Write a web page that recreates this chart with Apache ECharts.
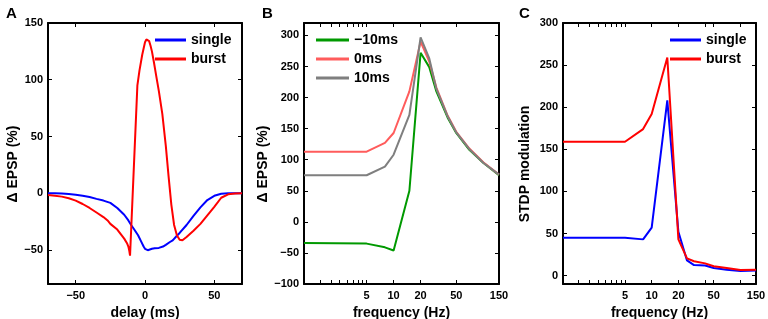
<!DOCTYPE html>
<html>
<head>
<meta charset="utf-8">
<title>EPSP / STDP modulation</title>
<script src="https://cdn.jsdelivr.net/npm/echarts@6/dist/echarts.min.js"></script>
<style>
  html, body { margin: 0; padding: 0; background: #fff; }
  #chart { width: 768px; height: 319px; }
</style>
</head>
<body>
<div id="chart"></div>
<script>
// ---- panel A : delta EPSP vs delay ----
var delaySingle = [-70, -65, -60, -55, -50, -45, -40, -35, -30, -25, -20, -15, -12, -10, -8, -5, -3, -1, 0, 1, 2, 3, 5, 7, 10, 13, 15, 18, 20, 23, 25, 30, 35, 40, 45, 50, 55, 60, 65, 70];
var epspSingle  = [0, -0.1, -0.3, -0.7, -1.3, -2.2, -3.4, -5, -6.5, -8.5, -13, -19, -24, -28, -31.5, -37, -42, -47, -49, -50, -50.2, -49.8, -49, -48.5, -48.2, -47, -45.5, -43, -41.5, -37.5, -35, -28, -20, -12.5, -6, -2.3, -0.5, -0.1, 0, 0];
var delayBurst  = [-70, -65, -60, -55, -50, -45, -40, -35, -30, -27, -25, -20, -17.5, -15, -13, -12, -11.3, -10.8, -5.5, -4, -2, 0, 1, 2, 3, 4, 5, 6.5, 8, 10, 12.5, 15, 17, 19, 21, 23, 25, 27, 30, 35, 40, 45, 50, 55, 60, 65, 70];
var epspBurst   = [-1.5, -2.2, -3, -4.5, -6.5, -9.5, -13, -17, -21, -24, -27, -32, -36, -40, -44, -47, -51, -55, 95, 108, 122, 133, 135.5, 135, 134, 130, 125, 115, 104, 90, 70, 42, 15, -10, -28, -37, -41, -41.5, -38.5, -33, -27, -19.5, -12, -4, -1, -0.2, 0];

// ---- panel B : delta EPSP vs frequency, three delays ----
var freqB   = [1, 5, 8, 10, 15, 20, 25, 30, 40, 50, 70, 100, 150];
var epspM10 = [-34, -35, -41, -46, 50, 272, 249, 210, 168, 143, 116, 95, 75];
var epsp0   = [113, 113, 127, 143, 210, 290, 258, 216, 171, 145, 118, 96, 76];
var epspP10 = [75, 75, 89, 108, 172, 297, 263, 214, 170, 144, 117, 95, 76];

// ---- panel C : STDP modulation vs frequency ----
var freqC      = [1, 5, 8, 10, 15, 20, 25, 30, 40, 50, 70, 100, 150];
var stdpSingle = [45, 45, 43, 57, 208, 52, 18, 12.5, 12, 9, 7, 5.5, 6];
var stdpBurst  = [159, 159, 174, 192, 259, 43, 20.5, 17, 14.5, 11, 9, 6.5, 7];

// tick values
var delayTicks = [-50, 0, 50];
var yTicksA    = [-50, 0, 50, 100, 150];
var freqLabels = [5, 10, 20, 50, 150];
var freqTicksB = [1.5, 2, 2.5, 3, 3.5, 4, 4.5, 5, 10, 20, 50, 150];
var freqTicksC = [1.5, 2, 2.5, 3, 3.5, 4, 4.5, 5, 10, 20, 40, 50, 100, 150];
var yTicksB    = [-100, -50, 0, 50, 100, 150, 200, 250, 300];
var yTicksC    = [0, 50, 100, 150, 200, 250, 300];

var font = "'Liberation Sans', Arial, Helvetica, sans-serif";

function zip(xs, ys) {
  return xs.map(function (x, i) { return [x, ys[i]]; });
}
function minus(v) {
  return String(v).replace('-', '\u2212');
}

// one side of a panel frame; labels only on bottom / left
function axis(grid, type, min, max, ticks, position, labels) {
  var a = {
    gridIndex: grid,
    type: type,
    min: min,
    max: max,
    position: position,
    axisLine: { show: true, onZero: false, lineStyle: { color: '#000', width: 2 } },
    axisTick: { show: true, inside: true, length: 4, customValues: ticks, lineStyle: { color: '#000', width: 1 } },
    axisLabel: {
      show: !!labels,
      customValues: labels || ticks,
      color: '#000',
      fontFamily: font,
      fontWeight: 'bold',
      fontSize: 11,
      margin: position === 'bottom' ? 6 : 5,
      formatter: minus
    },
    splitLine: { show: false },
    minorTick: { show: false }
  };
  if (type === 'log') a.logBase = 10;
  return a;
}

function named(a, name, gap, pad) {
  a.name = name;
  a.nameLocation = 'middle';
  a.nameGap = gap;
  a.nameTextStyle = { color: '#000', fontFamily: font, fontWeight: 'bold', fontSize: 14, padding: pad || 0 };
  return a;
}

var xAxes = [
  named(axis(0, 'value', -70, 70, delayTicks, 'bottom', delayTicks), 'delay (ms)', 18),
  axis(0, 'value', -70, 70, delayTicks, 'top'),
  named(axis(1, 'log', 1, 150, freqTicksB, 'bottom', freqLabels), 'frequency (Hz)', 20),
  axis(1, 'log', 1, 150, freqTicksB, 'top'),
  named(axis(2, 'log', 1, 150, freqTicksC, 'bottom', freqLabels), 'frequency (Hz)', 20),
  axis(2, 'log', 1, 150, freqTicksC, 'top')
];
var yAxes = [
  named(axis(0, 'value', -80, 150, yTicksA, 'left', yTicksA), '\u0394 EPSP (%)', 28, [0, 21, 0, 0]),
  axis(0, 'value', -80, 150, yTicksA, 'right'),
  named(axis(1, 'value', -100, 320, yTicksB, 'left', yTicksB), '\u0394 EPSP (%)', 31, [0, 21, 0, 0]),
  axis(1, 'value', -100, 320, yTicksB, 'right'),
  named(axis(2, 'value', -10, 300, yTicksC, 'left', yTicksC), 'STDP modulation', 31, [0, 21, 0, 0]),
  axis(2, 'value', -10, 300, yTicksC, 'right')
];

function line(name, data, xi, color, width) {
  return {
    name: name,
    type: 'line',
    xAxisIndex: xi,
    yAxisIndex: xi,
    data: data,
    symbol: 'none',
    showSymbol: false,
    smooth: false,
    animation: false,
    lineStyle: { color: color, width: width || 2 },
    itemStyle: { color: color }
  };
}

var legendText = { color: '#000', fontFamily: font, fontWeight: 'bold', fontSize: 14 };

// legend keys drawn as short thick strokes
function legend(names, left, w) {
  return {
    data: names,
    orient: 'vertical',
    left: left,
    top: 33,
    icon: 'rect',
    itemWidth: w,
    itemHeight: 3,
    itemGap: 5,
    padding: 0,
    selectedMode: false,
    textStyle: legendText
  };
}

// fixed plot boxes; outerBoundsMode off so v6 does not shrink them
function box(left, width) {
  return { left: left, top: 23, width: width, height: 261, outerBoundsMode: 'none', containLabel: false };
}

var option = {
  animation: false,
  backgroundColor: '#fff',
  grid: [box(48, 194), box(304, 195), box(563, 193)],
  xAxis: xAxes,
  yAxis: yAxes,
  legend: [
    legend(['single', 'burst'], 155, 31),
    legend(['\u221210ms', '0ms', '10ms'], 316, 33),
    legend(['single', 'burst'], 670, 31)
  ],
  graphic: [
    { type: 'text', left: 6, top: 6, style: { text: 'A', fill: '#000', font: 'bold 15px ' + font } },
    { type: 'text', left: 262, top: 6, style: { text: 'B', fill: '#000', font: 'bold 15px ' + font } },
    { type: 'text', left: 519, top: 6, style: { text: 'C', fill: '#000', font: 'bold 15px ' + font } }
  ],
  series: [
    line('single', zip(delaySingle, epspSingle), 0, '#0000ff'),
    line('burst', zip(delayBurst, epspBurst), 0, '#ff0000'),
    line('\u221210ms', zip(freqB, epspM10), 2, '#009900'),
    line('0ms', zip(freqB, epsp0), 2, '#ff5c5c'),
    line('10ms', zip(freqB, epspP10), 2, '#7f7f7f'),
    line('single', zip(freqC, stdpSingle), 4, '#0000ff'),
    line('burst', zip(freqC, stdpBurst), 4, '#ff0000')
  ]
};

var chart = echarts.init(document.getElementById('chart'));
chart.setOption(option);
</script>
</body>
</html>
